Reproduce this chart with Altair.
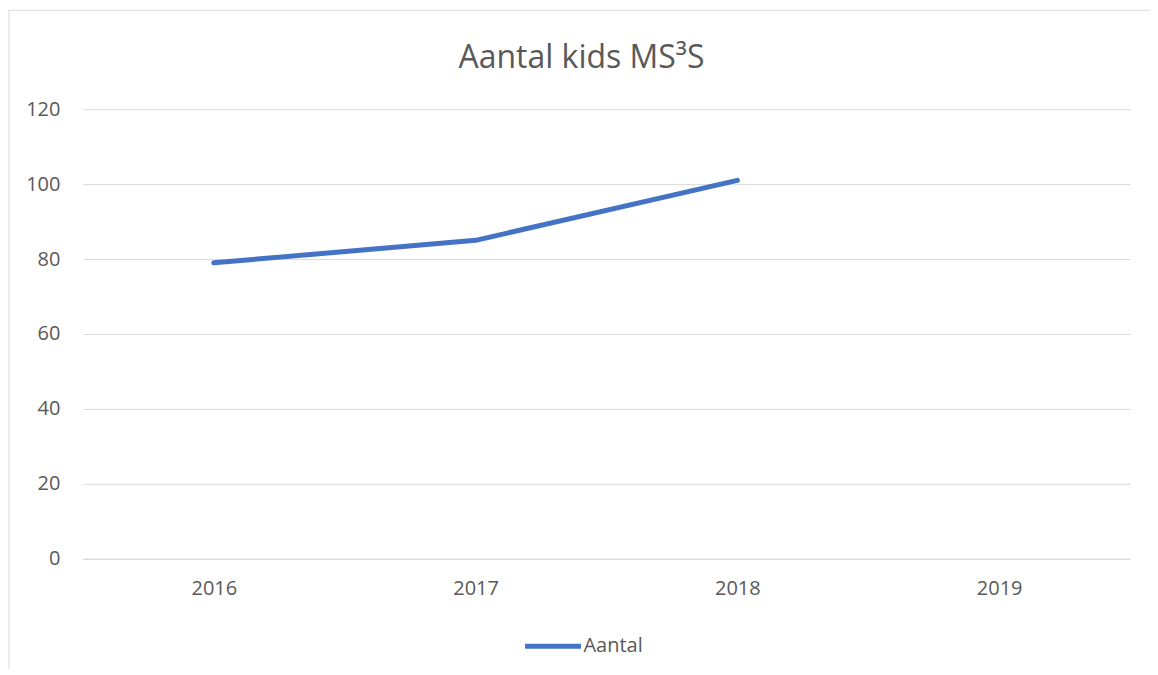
import altair as alt
import pandas as pd

years = ["2016", "2017", "2018", "2019"]
aantal = [79, 85, 101, None]
series = ["Aantal", "Aantal", "Aantal", "Aantal"]
title_text = "Aantal kids MS³S"

df = pd.DataFrame({"year": years, "value": aantal, "series": series})

FONT = "Open Sans"
GREY = "#595959"

line = alt.Chart(df).mark_line(strokeWidth=5, strokeCap="round", strokeJoin="round").encode(
    x=alt.X("year:O", scale=alt.Scale(domain=years, padding=0.5),
            axis=alt.Axis(title=None, labelAngle=0, ticks=False, domain=True,
                          domainColor="#d9d9d9", labelPadding=20)),
    y=alt.Y("value:Q", scale=alt.Scale(domain=[0, 120]),
            axis=alt.Axis(title=None, values=[0, 20, 40, 60, 80, 100, 120], ticks=False,
                          domain=False, labelPadding=23, gridColor="#d9d9d9")),
    color=alt.Color("series:N", scale=alt.Scale(range=["#4472C4"]),
                    legend=alt.Legend(title=None, orient="none", legendX=440, legendY=507,
                                      symbolType="stroke", symbolSize=3136,
                                      symbolStrokeWidth=5, labelFontSize=20,
                                      labelFont=FONT, labelColor=GREY, labelOffset=0)),
)

frame_data = alt.Data(values=[{}])
top_border = alt.Chart(frame_data).mark_rule(color="#d9d9d9", strokeWidth=1).encode(
    x=alt.value(-74), x2=alt.value(1080), y=alt.value(-99)
)
left_border = alt.Chart(frame_data).mark_rule(color="#d9d9d9", strokeWidth=1).encode(
    x=alt.value(-74), y=alt.value(-99), y2=alt.value(570)
)
title = alt.Chart(alt.Data(values=[{"t": title_text}])).mark_text(
    font=FONT, fontSize=32, color=GREY, align="center", baseline="alphabetic"
).encode(x=alt.value(499), y=alt.value(-41), text="t:N")

chart = alt.layer(top_border, left_border, title, line).properties(
    width=1048,
    height=450,
    autosize=alt.AutoSizeParams(type="none"),
    padding={"left": 75, "top": 101, "right": 20, "bottom": 110},
).configure_view(stroke=None).configure_axis(
    labelFont=FONT, labelFontSize=20, labelColor=GREY, grid=True
).configure_axisX(grid=False)

chart.save("out.html", embed_options={"renderer": "svg", "actions": False})
